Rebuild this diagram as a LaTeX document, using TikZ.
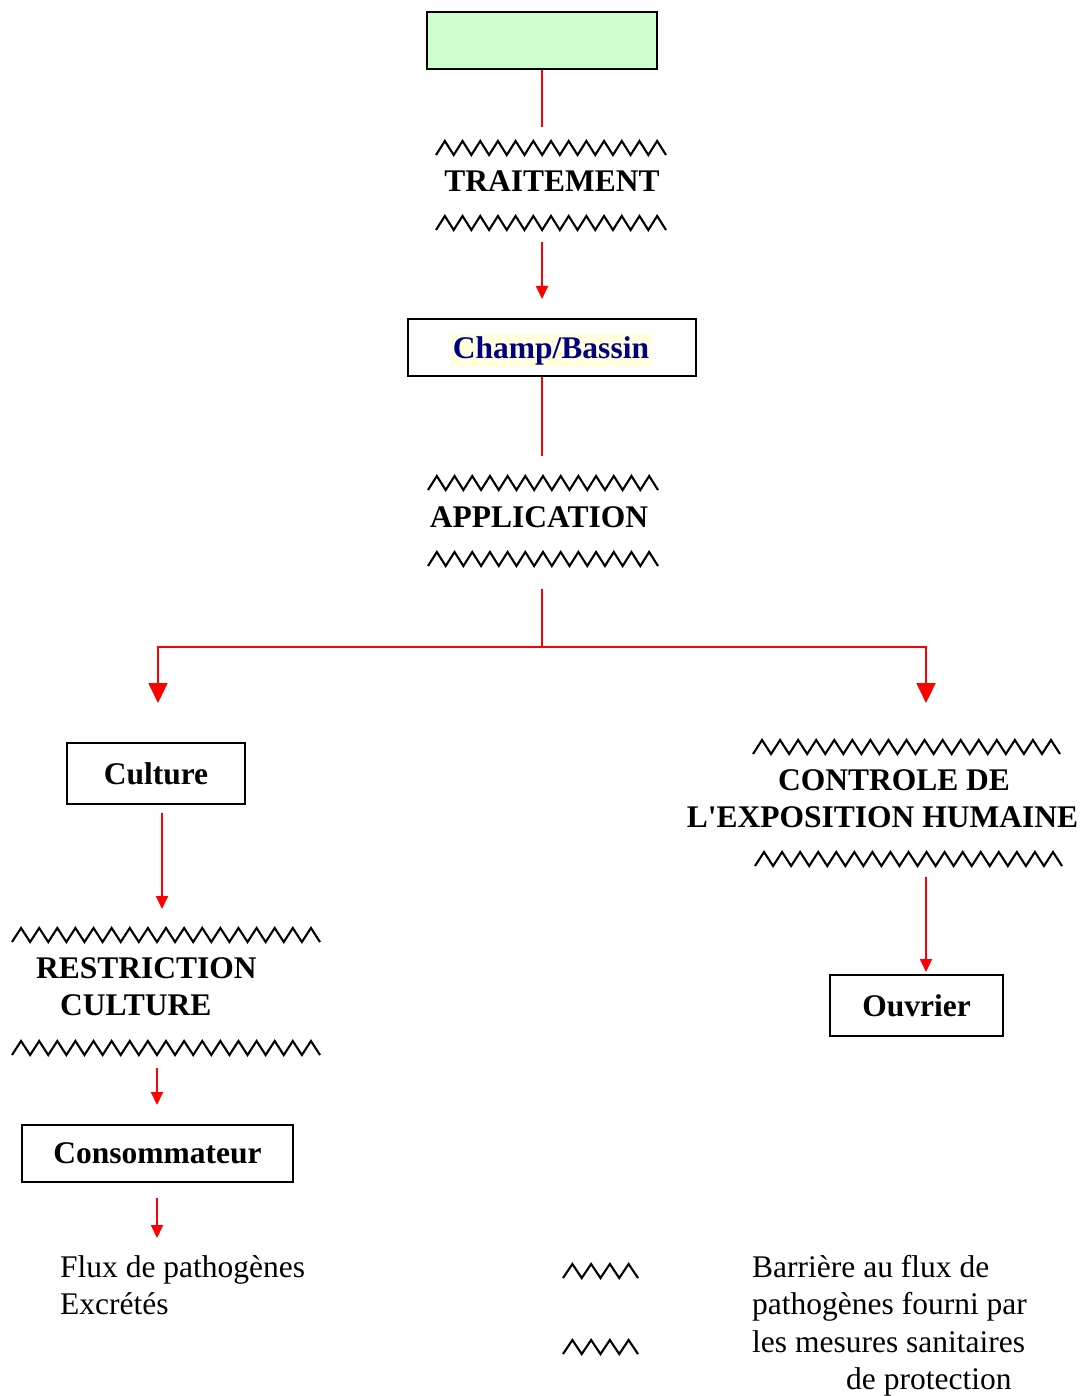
\documentclass[tikz,border=0pt]{standalone}
\usepackage{fontspec}
\setmainfont{Liberation Serif}
\usetikzlibrary{arrows.meta}
\definecolor{boxgreen}{HTML}{CCFFCC}
\definecolor{navytext}{HTML}{000080}
\definecolor{hlyellow}{HTML}{FFFFE0}
\tikzset{
 box/.style={draw=black,line width=1.8pt,rectangle,inner sep=0pt},
 boxtext/.style={font=\fontsize{31.5}{37.5}\selectfont\bfseries},
 lbl/.style={font=\fontsize{31.5}{37.5}\selectfont\bfseries, inner sep=0pt, anchor=base},
 lblw/.style={lbl, anchor=base west},
 txt/.style={font=\fontsize{31.5}{37.5}\selectfont, inner sep=0pt, anchor=base west},
 flow/.style={draw=red,line width=1.8pt},
 arr/.style={flow,-{Triangle[length=13pt,width=12pt]}},
 bigarr/.style={flow,-{Triangle[length=20pt,width=19pt]}},
 zzline/.style={line width=2.1pt,black,line join=miter},
}
\newcommand\zigz[4]{%
 \draw[zzline] (#1,#2) \foreach \i in {1,...,#3}{ -- ++({#4/#3/2},-14) -- ++({#4/#3/2},14)};}
\begin{document}
\begin{tikzpicture}[x=1pt,y=-1pt]
\useasboundingbox (0,0) rectangle (1085,1396);

% boxes
\node[box, fill=boxgreen, minimum width=230pt, minimum height=57pt] (src) at (542,40.5) {};
\node[box, minimum width=288pt, minimum height=57pt] (champ) at (552,347.5) {};
\node[fill=hlyellow, inner sep=2pt, boxtext, text=navytext] (champtxt) at (551,350.5) {Champ/Bassin};
\node[box, boxtext, minimum width=178pt, minimum height=61pt] (culture) at (156,773.5) {Culture};
\node[box, boxtext, minimum width=271pt, minimum height=57pt] (conso) at (157.5,1153.5) {Consommateur};
\node[box, boxtext, minimum width=173pt, minimum height=61pt] (ouvrier) at (916.5,1005.5) {Ouvrier};

% barrier labels
\node[lbl] (trait) at (552,192) {TRAITEMENT};
\node[lbl] (appl) at (539,527) {APPLICATION};
\node[lblw] (restr1) at (36,978) {RESTRICTION};
\node[lblw] (restr2) at (60,1015) {CULTURE};
\node[lbl] (ctrl1) at (894,790) {CONTROLE DE};
\node[lbl] (ctrl2) at (882.5,827) {L\textquotesingle EXPOSITION HUMAINE};

% zigzags
\zigz{436}{155}{13}{230}
\zigz{436}{230}{13}{230}
\zigz{428}{490}{13}{230}
\zigz{428}{566}{13}{230}
\zigz{12}{942}{17}{308}
\zigz{12}{1055}{17}{308}
\zigz{753}{754}{17}{307}
\zigz{755}{866}{17}{307}
\zigz{563}{1278}{4}{75}
\zigz{563}{1354}{4}{75}

% coordinates
\coordinate (t1) at (542,127);
\coordinate (t2) at (542,242);
\coordinate (t3) at (542,299);
\coordinate (a1) at (542,456);
\coordinate (a2) at (542,589);
\coordinate (split) at (542,647);
\coordinate (lt) at (158,703);
\coordinate (rt) at (926,703);
\coordinate (c1) at (162,813);
\coordinate (c2) at (162,909);
\coordinate (r1) at (157,1068);
\coordinate (r2) at (157,1105);
\coordinate (k1) at (157,1198);
\coordinate (k2) at (157,1238);
\coordinate (h1) at (926,877);
\coordinate (h2) at (926,972);

% connectors
\draw[flow] (src.south) -- (t1);
\draw[arr] (t2) -- (t3);
\draw[flow] (champ.south -| a1) -- (a1);
\draw[flow] (a2) -- (split);
\draw[bigarr] (split) -| (lt);
\draw[bigarr] (split) -| (rt);
\draw[arr] (c1) -- (c2);
\draw[arr] (r1) -- (r2);
\draw[arr] (k1) -- (k2);
\draw[arr] (h1) -- (h2);

% legend
\node[txt] (flux1) at (60,1277) {Flux de pathogènes};
\node[txt] (flux2) at (60,1314) {Excrétés};
\node[txt] (bar1) at (752,1277) {Barrière au flux de};
\node[txt] (bar2) at (752,1314) {pathogènes fourni par};
\node[txt] (bar3) at (752,1352) {les mesures sanitaires};
\node[txt] (bar4) at (846,1389) {de protection};
\end{tikzpicture}
\end{document}
